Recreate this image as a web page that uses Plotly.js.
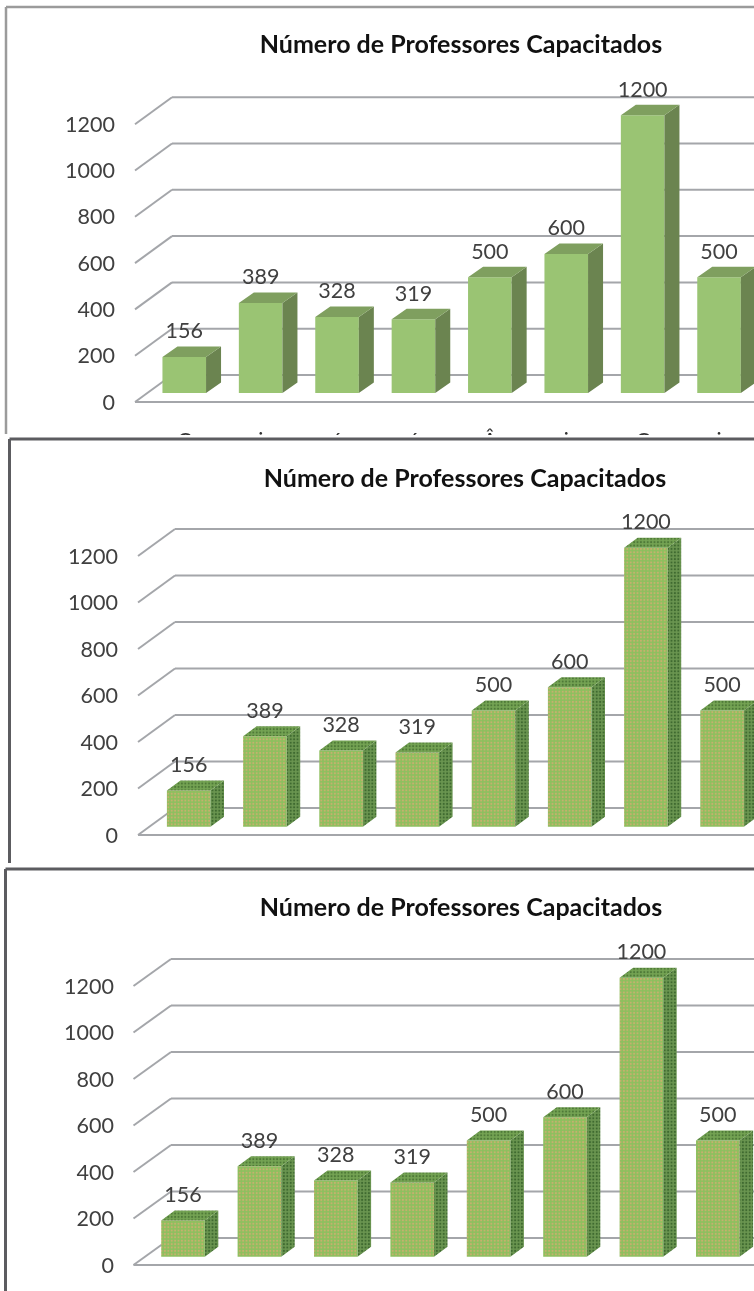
<!DOCTYPE html>
<html><head><meta charset="utf-8">
<script src="https://cdn.plot.ly/plotly-3.0.1.min.js"></script>
<style>
html,body{margin:0;padding:0;background:#fff;width:754px;height:1291px;overflow:hidden}
.p{position:absolute;left:0;width:754px;overflow:hidden}
</style></head><body>
<div id="p1" class="p" style="top:0;height:435px;filter:blur(.45px)"></div>
<div id="p2" class="p" style="top:435px;height:430px;filter:blur(.7px)"></div>
<div id="p3" class="p" style="top:865px;height:426px;filter:blur(.7px)"></div>
<script>
// Only the tops of the category labels survive in the picture (the crop cuts them off).
const categoryFragments = ["C","i","á","é","Â","i","C","i"];
const professores = [156,389,328,319,500,600,1200,500];
const yTicks = [0,200,400,600,800,1000,1200];
const chartTitle = "Número de Professores Capacitados";

const panels = [
 {id:"p1",h:435,zero:402,bar0:184.25,step:76.4,k:.2315,left:135,back:172,floorLift:9,sideDx:15,sideDy:10.5,depth:27,labelX:115,
  titleX:461,titleY:44,borderY:7,borderX:6,borderEnd:434,borderC:"#9b9b9b",borderW:2.5,textured:false,showCats:true,axisBottom:420},
 {id:"p2",h:430,zero:400,bar0:188.7,step:76.2,k:.2325,left:138,back:175,floorLift:8.3,sideDx:13.5,sideDy:10,depth:27,labelX:118,
  titleX:465,titleY:43,borderY:4,borderX:9.5,borderEnd:428,borderC:"#5c5c60",borderW:3,textured:true,showCats:false,axisBottom:430},
 {id:"p3",h:426,zero:400,bar0:183,step:76.4,k:.2325,left:133.5,back:171,floorLift:8.3,sideDx:13.5,sideDy:10,depth:27,labelX:114,
  titleX:461,titleY:42,borderY:4,borderX:5.5,borderEnd:426,borderC:"#5c5c60",borderW:3,textured:true,showCats:false,axisBottom:426}
];

function draw(c){
  const W=754, idx=professores.map((_,i)=>i);
  const toX=px=>(px-c.bar0)/c.step;
  const lift=c.floorLift/c.k, dx=c.sideDx/c.step, dy=c.sideDy/c.k, halfW=21.8/c.step;
  const sx=[],sy=[],tx=[],ty=[];
  idx.forEach(i=>{
    const v=professores[i]+lift, r=i+halfW, l=i-halfW;
    sx.push(r,r+dx,r+dx,r,r,null); sy.push(lift,lift+dy,v+dy,v,lift,null);
    tx.push(l,r,r+dx,l+dx,l,null); ty.push(v,v,v+dy,v+dy,v,null);
  });
  const pat=(fg,bg)=>({shape:".",fgcolor:fg,bgcolor:bg,size:3.4,solidity:.3,fillmode:"replace"});
  const front={type:"bar",x:idx,y:professores,base:lift,width:2*halfW,
    marker:c.textured?{color:"#8fc061",line:{width:0},pattern:pat("#c6b06e","#8cc05e")}:{color:"#9ac473",line:{width:0}}};
  const side={type:"scatter",mode:"none",x:sx,y:sy,fill:"toself",fillcolor:c.textured?"#5f8a45":"#6b8450",
    ...(c.textured?{fillpattern:pat("#3f6a30","#6a9550")}:{})};
  const top={type:"scatter",mode:"none",x:tx,y:ty,fill:"toself",fillcolor:c.textured?"#6c9a4c":"#7f9f5f",
    ...(c.textured?{fillpattern:pat("#4f7a38","#74a353")}:{})};
  const labels={type:"scatter",mode:"text",x:idx,y:professores.map(v=>v+lift+24/c.k),text:professores.map(String),
    textposition:"middle center",textfont:{family:"Lato",size:21.5,color:"#404040"}};

  const gridC="#a4a6aa", backX=toX(c.back), leftX=toX(c.left), xMax=toX(W)+.5, backLift=c.depth/c.k;
  const shapes=[];
  yTicks.forEach(t=>{
    shapes.push({type:"line",layer:"below",xref:"x",yref:"y",x0:backX,x1:xMax,y0:t+backLift,y1:t+backLift,line:{color:gridC,width:2}});
    shapes.push({type:"line",layer:"below",xref:"x",yref:"y",x0:leftX,x1:backX,y0:t,y1:t+backLift,line:{color:gridC,width:2}});
  });
  shapes.push({type:"line",layer:"below",xref:"x",yref:"y",x0:leftX,x1:xMax,y0:0,y1:0,line:{color:gridC,width:2}});
  // panel frame
  shapes.push({type:"line",xref:"paper",yref:"paper",x0:c.borderX/W,x1:1.01,y0:1-c.borderY/c.h,y1:1-c.borderY/c.h,layer:"above",line:{color:c.borderC,width:c.borderW}});
  shapes.push({type:"line",xref:"paper",yref:"paper",x0:c.borderX/W,x1:c.borderX/W,y0:1-c.borderY/c.h,y1:1-c.borderEnd/c.h,layer:"above",line:{color:c.borderC,width:c.borderW}});

  const layout={
    width:W,height:c.h,margin:{l:0,r:0,t:0,b:0,pad:0},paper_bgcolor:"#fff",plot_bgcolor:"rgba(0,0,0,0)",
    showlegend:false,hovermode:false,barmode:"overlay",
    title:{text:chartTitle,x:c.titleX/W,xref:"paper",xanchor:"center",y:1-c.titleY/c.h,yref:"paper",yanchor:"middle",
      font:{family:"Lato",size:25,weight:700,color:"#111"}},
    xaxis:{range:[toX(0),toX(W)],domain:[0,1],showgrid:false,zeroline:false,showline:false,fixedrange:true,ticks:"",
      tickmode:"array",tickvals:idx,ticktext:categoryFragments,showticklabels:c.showCats,
      tickfont:{family:"Lato",size:21,color:"#333"},ticklabelstandoff:6},
    yaxis:{domain:[1-c.axisBottom/c.h,1],range:[(c.zero-c.axisBottom)/c.k,c.zero/c.k],showgrid:false,zeroline:false,showline:false,
      fixedrange:true,ticks:"",anchor:"free",position:c.labelX/W,tickmode:"array",tickvals:yTicks,
      tickfont:{family:"Lato",size:21.5,color:"#404040"}},
    shapes
  };
  Plotly.newPlot(c.id,[front,side,top,labels],layout,{staticPlot:true,displayModeBar:false});
}
panels.forEach(draw);
</script></body></html>
